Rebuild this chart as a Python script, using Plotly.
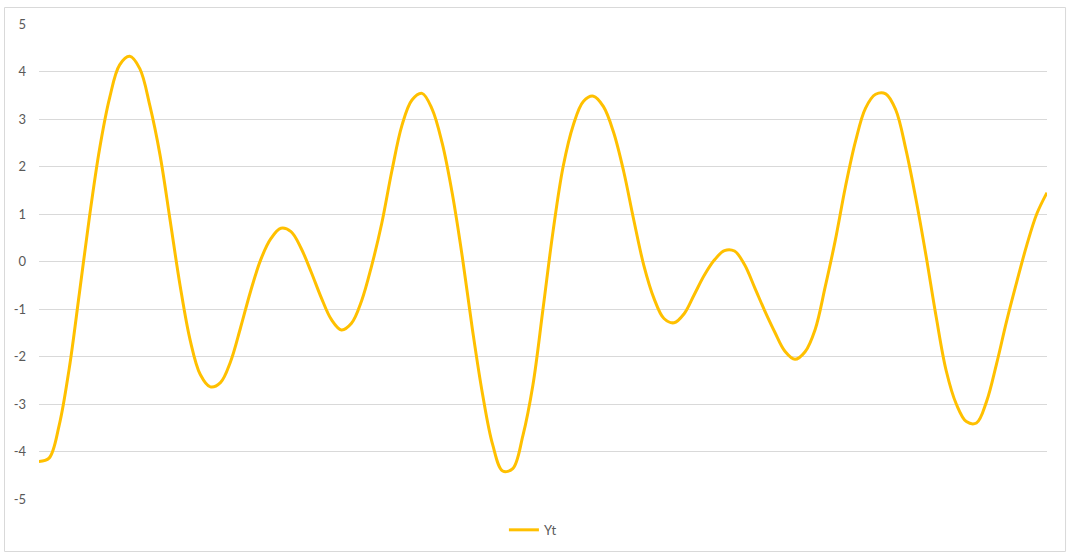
import plotly.graph_objects as go

# time index and series values
t = list(range(101))
yt = [
    -4.21, -4.14, -3.45, -2.25, -0.68, 0.93, 2.36, 3.44, 4.14, 4.32,
    4.06, 3.28, 2.25, 0.88, -0.51, -1.66, -2.38, -2.64, -2.55, -2.11,
    -1.39, -0.62, 0.04, 0.48, 0.70, 0.63, 0.28, -0.22, -0.76, -1.22,
    -1.44, -1.30, -0.83, -0.09, 0.80, 1.90, 2.86, 3.40, 3.54, 3.21,
    2.49, 1.43, 0.09, -1.43, -2.79, -3.85, -4.41, -4.36, -3.67, -2.60,
    -1.00, 0.64, 2.00, 2.87, 3.37, 3.48, 3.26, 2.72, 1.90, 0.88,
    -0.08, -0.77, -1.20, -1.29, -1.10, -0.70, -0.29, 0.03, 0.23, 0.22,
    -0.07, -0.55, -1.04, -1.49, -1.89, -2.06, -1.90, -1.43, -0.53, 0.45,
    1.57, 2.53, 3.23, 3.52, 3.53, 3.19, 2.36, 1.31, 0.12, -1.16,
    -2.30, -3.00, -3.37, -3.40, -2.95, -2.15, -1.25, -0.43, 0.35, 1.01,
    1.45,
]
y_ticks = [-5, -4, -3, -2, -1, 0, 1, 2, 3, 4, 5]
y_tick_labels = ["-5", "-4", "-3", "-2", "-1", "0", "1", "2", "3", "4", "5"]
series_name = "Yt"

fig = go.Figure()
fig.add_trace(go.Scatter(
    x=t, y=yt, mode="lines", name=series_name,
    line=dict(color="#FFC000", width=3, shape="spline", smoothing=1.0),
    showlegend=True,
))

fig.update_layout(
    width=1075, height=560,
    margin=dict(l=39, r=28, t=24, b=61),
    paper_bgcolor="white", plot_bgcolor="white",
    font=dict(family="Lato, 'Open Sans', sans-serif", size=13, color="#595959"),
    showlegend=True,
    legend=dict(orientation="h", x=0.49, xanchor="center", y=-0.065, yanchor="middle",
                font=dict(size=13, color="#595959"), itemwidth=30,
                bgcolor="rgba(0,0,0,0)"),
    xaxis=dict(range=[t[0], t[-1]], showgrid=False, showticklabels=False,
               zeroline=False, showline=False, ticks=""),
    yaxis=dict(range=[-5, 5], tickvals=y_ticks, ticktext=y_tick_labels,
               showgrid=True, gridcolor="#D9D9D9",
               gridwidth=1, zeroline=False, showline=False, ticks="",
               ticklabelstandoff=12),
    shapes=[dict(type="rect", xref="paper", yref="paper",
                 x0=-0.0342, x1=1.0184, y0=-0.1105, y1=1.0347,
                 line=dict(color="#D9D9D9", width=1), layer="below")],
)

fig.write_html("out.html")
